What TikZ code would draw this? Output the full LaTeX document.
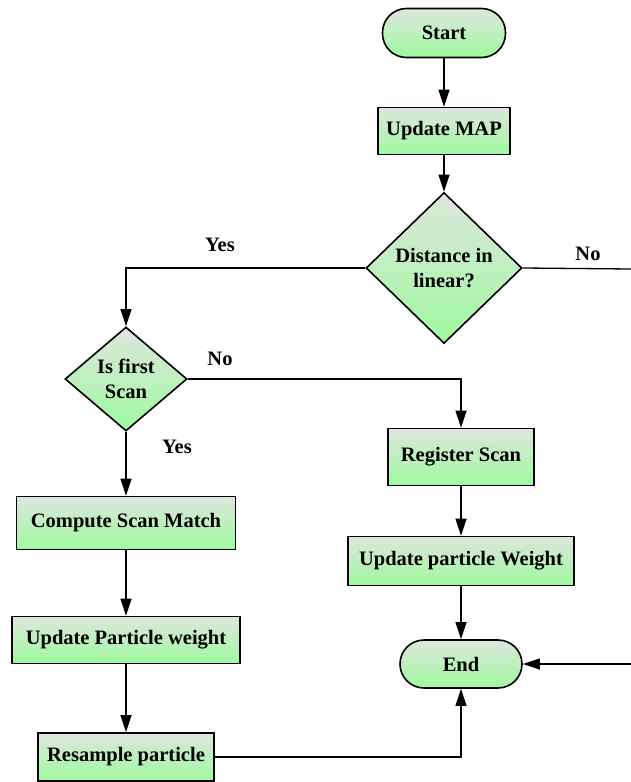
\documentclass[tikz,border=0pt]{standalone}
\usepackage{fontspec}
\setmainfont{Liberation Serif}
\usetikzlibrary{shapes.geometric,arrows.meta}
\definecolor{topg}{RGB}{222,230,222}
\definecolor{botg}{RGB}{158,250,158}
\tikzset{
  box/.style={draw=black, line width=1.6pt, top color=topg, bottom color=botg, inner sep=0pt, font=\fontsize{20.5}{24.5}\selectfont\bfseries, align=center},
  term/.style={box, rounded corners=24pt},
  dec/.style={box, diamond},
  conn/.style={line width=1.3pt, -{Triangle[length=17pt,width=11pt]}},
  plain/.style={line width=1.3pt},
  lbl/.style={font=\fontsize{20.5}{24.5}\selectfont\bfseries},
}
\begin{document}
\begin{tikzpicture}[x=1pt,y=-1pt]
\useasboundingbox (0,0) rectangle (631,782);
\node[term, minimum width=123pt, minimum height=49pt] (start) at (444,33) {Start};
\node[box, minimum width=132pt, minimum height=47pt] (map) at (444,131) {Update MAP};
\node[dec, minimum width=156pt, minimum height=151pt, aspect=1.03] (dist) at (444,268) {Distance in\\linear?};
\node[dec, minimum width=122pt, minimum height=104pt, aspect=1.17] (first) at (126,379) {Is first\\Scan};
\node[box, minimum width=146pt, minimum height=57pt] (reg) at (461,457) {Register Scan};
\node[box, minimum width=226pt, minimum height=49pt] (upd) at (461,561) {Update particle Weight};
\node[term, minimum width=122pt, minimum height=48pt] (end) at (461,664) {End};
\node[box, minimum width=219pt, minimum height=53pt] (csm) at (126,523) {Compute Scan Match};
\node[box, minimum width=228pt, minimum height=47pt] (upw) at (126,640) {Update Particle weight};
\node[box, minimum width=176pt, minimum height=48pt] (res) at (126,757) {Resample particle};
\coordinate (rout) at (631,269);
\coordinate (rin) at (631,664);
\node[lbl] (l1) at (220,245) {Yes};
\node[lbl] (l2) at (588,254) {No};
\node[lbl] (l3) at (220,359) {No};
\node[lbl] (l4) at (177,447) {Yes};
\draw[conn] (start) -- (map);
\draw[conn] (map) -- (dist);
\draw[conn] (dist.west) -| (first.north);
\draw[plain] (dist.east) -- (rout);
\draw[conn] (first.east) -| (reg.north);
\draw[conn] (first.south) -- (csm.north);
\draw[conn] (csm) -- (upw);
\draw[conn] (upw) -- (res);
\draw[conn] (reg) -- (upd);
\draw[conn] (upd) -- (end);
\draw[conn] (res.east) -| (end.south);
\draw[conn] (rin) -- (end.east);
\end{tikzpicture}
\end{document}
